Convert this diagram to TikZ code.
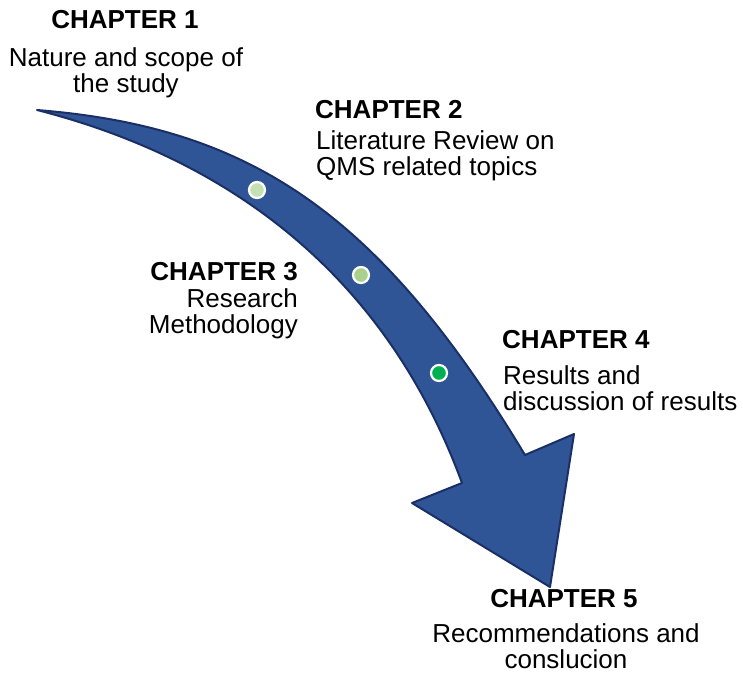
\documentclass[tikz,border=0pt]{standalone}
\usepackage{fontspec}
\setmainfont{Liberation Sans}
\definecolor{arrowfill}{HTML}{2F5597}
\definecolor{arrowline}{HTML}{1A2F66}
\definecolor{dotA}{HTML}{C5E0B4}
\definecolor{dotB}{HTML}{A9D18E}
\definecolor{dotC}{HTML}{00B050}
\begin{document}
\begin{tikzpicture}[x=1pt,y=-1pt,
  title/.style={font=\fontsize{26}{26}\selectfont\bfseries, inner sep=0pt},
  body/.style={font=\fontsize{26}{25.5}\selectfont, inner sep=0pt},
  stopdot/.style={circle, draw=white, line width=2.2pt, minimum size=16pt, inner sep=0pt}]
\useasboundingbox (0,0) rectangle (743,680);

% curved block arrow
\filldraw[fill=arrowfill, draw=arrowline, line width=2pt, line join=round]
  (37,110) .. controls (249,127) and (378,211) .. (525,455)
  -- (574,434) -- (550,587) -- (412,503) -- (462,483)
  .. controls (389,284) and (240,162) .. (37,110) -- cycle;

% milestone dots on the shaft
\node[stopdot, fill=dotA] (s1) at (257,190) {};
\node[stopdot, fill=dotB] (s2) at (361,275) {};
\node[stopdot, fill=dotC] (s3) at (439,373) {};

% chapter labels (body anchors sit on the last line's baseline)
\node[title, anchor=base] (t1) at (125,28) {CHAPTER 1};
\node[body, anchor=base, align=center] (b1) at (126,92) {Nature and scope of\\the study};

\node[title, anchor=base west] (t2) at (315,118) {CHAPTER 2};
\node[body, anchor=base west, align=left] (b2) at (316,175) {Literature Review on\\QMS related topics};

\node[title, anchor=base east] (t3) at (298,280) {CHAPTER 3};
\node[body, anchor=base east, align=right] (b3) at (298,333) {Research\\Methodology};

\node[title, anchor=base west] (t4) at (502,348) {CHAPTER 4};
\node[body, anchor=base west, align=left] (b4) at (503,410) {Results and\\discussion of results};

\node[title, anchor=base] (t5) at (564,607) {CHAPTER 5};
\node[body, anchor=base, align=center] (b5) at (566,668) {Recommendations and\\conslucion};
\end{tikzpicture}
\end{document}
